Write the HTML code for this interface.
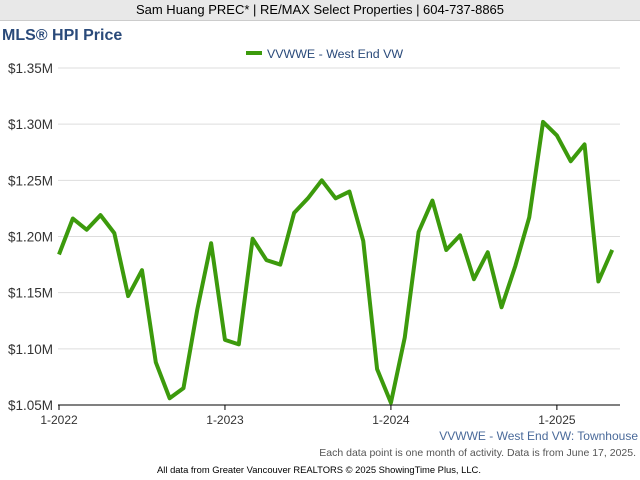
<!DOCTYPE html>
<html><head><meta charset="utf-8"><style>
body{margin:0;width:640px;height:480px;background:#fff;font-family:"Liberation Sans",sans-serif;overflow:hidden;position:relative}
.hdr{position:absolute;left:0;top:0;width:640px;height:20px;background:#e8e8e8;border-bottom:1px solid #ccc;text-align:center;font-size:13px;line-height:20px;color:#000}
</style></head><body>
<div class="hdr">Sam Huang PREC* | RE/MAX Select Properties | 604-737-8865</div>
<svg id="c" width="640" height="480" style="position:absolute;left:0;top:0"></svg>
<script>
const months=41;
const values=[1.184,1.216,1.206,1.219,1.203,1.147,1.170,1.088,1.056,1.065,1.135,1.194,1.108,1.104,1.198,1.179,1.175,1.221,1.234,1.250,1.234,1.240,1.196,1.082,1.052,1.110,1.204,1.232,1.188,1.201,1.162,1.186,1.137,1.174,1.217,1.302,1.290,1.267,1.282,1.160,1.188];
const yTicks=[1.05,1.10,1.15,1.20,1.25,1.30,1.35];
const yLabels=["$1.05M","$1.10M","$1.15M","$1.20M","$1.25M","$1.30M","$1.35M"];
const xTickIdx=[0,12,24,36];
const xLabels=["1-2022","1-2023","1-2024","1-2025"];
const svg=document.getElementById('c');
const NS='http://www.w3.org/2000/svg';
const x=i=>59+i*13.83;
const y=v=>405-(v-1.05)/0.30*337;
function mk(t,a,txt){const e=document.createElementNS(NS,t);for(const k in a)e.setAttribute(k,a[k]);if(txt!==undefined)e.textContent=txt;svg.appendChild(e);return e;}
let e;
e=mk('text',{x:2,y:40,'font-size':16,'font-weight':'bold',fill:'#2a4a7a'},'MLS® HPI Price');


yTicks.forEach((v,i)=>{
 e=mk('line',{x1:58,x2:620,y1:y(v),y2:y(v),stroke:i==0?'#000':'#ddd','stroke-width':1});
 
 
 e=mk('text',{x:53,y:y(v)+5,'font-size':13.5,'text-anchor':'end',fill:'#333'},yLabels[i]);
 
 
});
xTickIdx.forEach((t,i)=>{
 e=mk('line',{x1:x(t),x2:x(t),y1:405,y2:410,stroke:'#000'});
 
 
 e=mk('text',{x:x(t),y:424,'font-size':12,'text-anchor':'middle',fill:'#333'},xLabels[i]);
 
 
});
e=mk('polyline',{points:values.map((v,i)=>x(i)+','+y(v)).join(' '),fill:'none',stroke:'#3c9a0c','stroke-width':4,'stroke-linejoin':'round'});


e=mk('line',{x1:246,x2:262,y1:53,y2:53,stroke:'#3c9a0c','stroke-width':4});


e=mk('text',{x:267,y:58,'font-size':12.4,fill:'#2a4a7a'},'VVWWE - West End VW');


e=mk('text',{x:638,y:440,'font-size':12,'text-anchor':'end',fill:'#4a6a9a'},'VVWWE - West End VW: Townhouse');


e=mk('text',{x:636,y:456,'font-size':10.5,'text-anchor':'end',fill:'#555'},'Each data point is one month of activity. Data is from June 17, 2025.');


e=mk('text',{x:319,y:473,'font-size':9.4,'text-anchor':'middle',fill:'#000'},'All data from Greater Vancouver REALTORS © 2025 ShowingTime Plus, LLC.');


</script>
</body></html>
